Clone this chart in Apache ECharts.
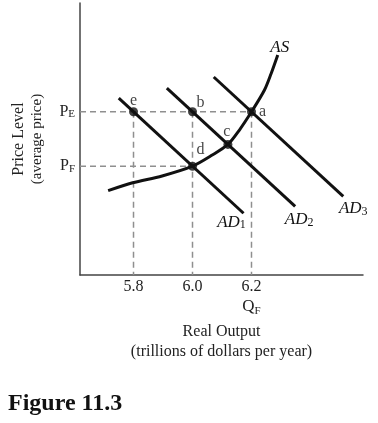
<!DOCTYPE html>
<html>
<head>
<meta charset="utf-8">
<script src="https://cdn.jsdelivr.net/npm/echarts@6/dist/echarts.min.js"></script>
<style>
  html, body { margin: 0; padding: 0; background: #fff; }
  #chart { width: 378px; height: 423px; }
</style>
</head>
<body>
<div id="chart"></div>
<script>
// 坐标轴刻度
const xTicks = [5.8, 6.0, 6.2];
const fullOutput = 6.2;          // QF
const priceTicks = [40, 60];     // PF, PE
const priceSubs = ['F', 'E'];

// 曲线（实际产出，价格水平）
const asCurve = [[5.714, 31.0], [5.797, 33.9], [5.897, 36.4], [6.0, 40], [6.067, 44.1],
  [6.12, 48], [6.159, 53.3], [6.2, 60], [6.244, 68.0], [6.267, 74.2], [6.289, 80.9]];
const ad1 = [[5.75, 65], [6.173, 22.7]];
const ad2 = [[5.913, 68.7], [6.348, 25.2]];
const ad3 = [[6.072, 72.8], [6.511, 28.9]];

// 交点
const pointNames = ['e', 'b', 'a', 'c', 'd'];
const pointValues = [[5.8, 60], [6.0, 60], [6.2, 60], [6.12, 48], [6.0, 40]];

const X_MIN = 5.6186, X_MAX = 6.578;
const serif = "'Liberation Serif', 'DejaVu Serif', serif";

// 标签偏移（样式，相对于圆点上沿）
const pointLabelOffset = { e: [0, -6.5], b: [8, -4.5], a: [11, 4.5], c: [-1, -8.5], d: [8, -11.5] };

// 虚线：交点到坐标轴
const pt = n => pointValues[pointNames.indexOf(n)];
const guides = [
  [[X_MIN, pt('a')[1]], pt('a')],
  [[X_MIN, pt('d')[1]], pt('d')],
  [pt('e'), [pt('e')[0], 0]],
  [pt('b'), [pt('b')[0], 0]],
  [pt('a'), [pt('a')[0], 0]]
];

const chart = echarts.init(document.getElementById('chart'));

const dashSeries = guides.map(g => ({
  type: 'line', data: g, symbol: 'none', silent: true, animation: false,
  lineStyle: { color: '#8f8f8f', width: 1.5, type: [6, 4] }, z: 1
}));

const curveRich = {
  i: { fontFamily: serif, fontStyle: 'italic', fontSize: 17, color: '#111', lineHeight: 18 },
  s: { fontFamily: serif, fontSize: 12, color: '#111', lineHeight: 10, verticalAlign: 'bottom', padding: [10, 0, 0, 0] }
};

function curve(data, text, smooth, labelOpt) {
  return {
    type: 'line', data: data, symbol: 'none', smooth: smooth, animation: false, z: 3,
    lineStyle: { color: '#111', width: 3 },
    endLabel: Object.assign({ show: true, formatter: () => text, rich: curveRich, distance: 0 }, labelOpt)
  };
}

chart.setOption({
  animation: false,
  title: {
    text: 'Figure 11.3', left: 3, top: 387,
    textStyle: { fontFamily: serif, fontWeight: 'bold', fontSize: 24, color: '#111' }
  },
  grid: { left: 80, top: 3, width: 283, height: 272 },
  xAxis: {
    type: 'value', min: X_MIN, max: X_MAX,
    axisLine: { show: true, lineStyle: { color: '#444', width: 1.5 } },
    axisTick: { show: false },
    splitLine: { show: false },
    axisLabel: {
      customValues: xTicks, margin: 2, color: '#222', fontFamily: serif, fontSize: 16, lineHeight: 20,
      formatter: v => v === fullOutput ? v.toFixed(1) + '\n{q|Q}{f|F}' : v.toFixed(1),
      rich: {
        q: { fontFamily: serif, fontSize: 17, color: '#222', lineHeight: 20 },
        f: { fontFamily: serif, fontSize: 11, color: '#222', lineHeight: 10, verticalAlign: 'bottom', padding: [8, 0, 0, 0] }
      }
    },
    name: 'Real Output\n(trillions of dollars per year)',
    nameLocation: 'middle', nameGap: 40,
    nameTextStyle: { fontFamily: serif, fontSize: 16, color: '#222', lineHeight: 20 }
  },
  yAxis: {
    type: 'value', min: 0, max: 100,
    axisLine: { show: true, lineStyle: { color: '#444', width: 1.5 } },
    axisTick: { show: false },
    splitLine: { show: false },
    axisLabel: {
      customValues: priceTicks, margin: 5,
      formatter: v => '{p|P}{s|' + priceSubs[priceTicks.indexOf(v)] + '}',
      rich: {
        p: { fontFamily: serif, fontSize: 16, color: '#222', lineHeight: 16 },
        s: { fontFamily: serif, fontSize: 11, color: '#222', lineHeight: 10, verticalAlign: 'bottom', padding: [8, 0, 0, 0] }
      }
    },
    name: '{a|Price Level}\n{b|(average price)}',
    nameLocation: 'middle', nameRotate: 90, nameGap: 33,
    nameTextStyle: {
      rich: {
        a: { fontFamily: serif, fontSize: 16, color: '#222', lineHeight: 19 },
        b: { fontFamily: serif, fontSize: 15, color: '#222', lineHeight: 19 }
      }
    }
  },
  series: dashSeries.concat([
    curve(ad1, '{i|AD}{s|1}', false, { align: 'center', verticalAlign: 'top', offset: [-12, 0] }),
    curve(ad2, '{i|AD}{s|2}', false, { align: 'center', verticalAlign: 'top', offset: [4, 4] }),
    curve(ad3, '{i|AD}{s|3}', false, { align: 'center', verticalAlign: 'top', offset: [10, 3] }),
    curve(asCurve, '{i|AS}', 0.3, { align: 'center', verticalAlign: 'bottom', offset: [2, 2] }),
    {
      type: 'scatter', z: 5, animation: false,
      symbol: 'circle', symbolSize: 9,
      itemStyle: { color: '#111' },
      data: pointNames.map((n, i) => ({
        name: n, value: pointValues[i],
        label: { offset: pointLabelOffset[n] }
      })),
      label: {
        show: true, position: 'top', distance: 0, align: 'center', verticalAlign: 'middle',
        formatter: p => p.name,
        fontFamily: serif, fontSize: 16, color: '#111'
      }
    }
  ])
});
</script>
</body>
</html>
